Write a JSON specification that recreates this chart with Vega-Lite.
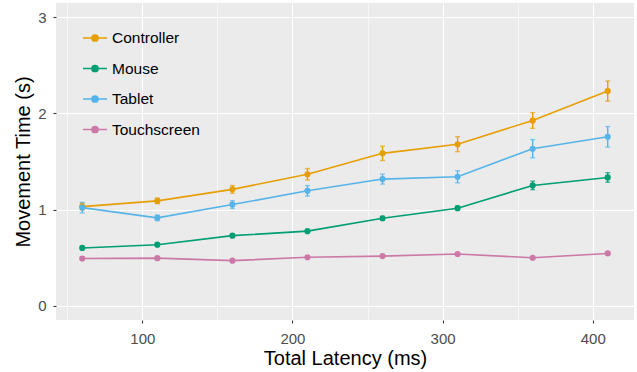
{
  "$schema": "https://vega.github.io/schema/vega-lite/v6.json",
  "width": 578,
  "height": 317,
  "autosize": "none",
  "padding": {"left": 56, "top": 3, "right": 3, "bottom": 52},
  "background": "white",
  "config": {
    "view": {"fill": "#EBEBEB", "stroke": null},
    "font": "Liberation Sans"
  },
  "data": {
    "values": [
      {"device": "Controller", "latency": 60, "time": 1.03, "se": 0.035},
      {"device": "Controller", "latency": 110, "time": 1.09, "se": 0.03},
      {"device": "Controller", "latency": 160, "time": 1.21, "se": 0.04},
      {"device": "Controller", "latency": 210, "time": 1.367, "se": 0.06},
      {"device": "Controller", "latency": 260, "time": 1.585, "se": 0.075},
      {"device": "Controller", "latency": 310, "time": 1.68, "se": 0.078},
      {"device": "Controller", "latency": 360, "time": 1.927, "se": 0.082},
      {"device": "Controller", "latency": 410, "time": 2.233, "se": 0.105},
      {"device": "Mouse", "latency": 60, "time": 0.6, "se": 0.015},
      {"device": "Mouse", "latency": 110, "time": 0.634, "se": 0.015},
      {"device": "Mouse", "latency": 160, "time": 0.728, "se": 0.015},
      {"device": "Mouse", "latency": 210, "time": 0.775, "se": 0.015},
      {"device": "Mouse", "latency": 260, "time": 0.909, "se": 0.02},
      {"device": "Mouse", "latency": 310, "time": 1.014, "se": 0.02},
      {"device": "Mouse", "latency": 360, "time": 1.251, "se": 0.045},
      {"device": "Mouse", "latency": 410, "time": 1.334, "se": 0.05},
      {"device": "Tablet", "latency": 60, "time": 1.02, "se": 0.055},
      {"device": "Tablet", "latency": 110, "time": 0.913, "se": 0.03},
      {"device": "Tablet", "latency": 160, "time": 1.052, "se": 0.04},
      {"device": "Tablet", "latency": 210, "time": 1.195, "se": 0.055},
      {"device": "Tablet", "latency": 260, "time": 1.317, "se": 0.052},
      {"device": "Tablet", "latency": 310, "time": 1.341, "se": 0.063},
      {"device": "Tablet", "latency": 360, "time": 1.633, "se": 0.095},
      {"device": "Tablet", "latency": 410, "time": 1.757, "se": 0.107},
      {"device": "Touchscreen", "latency": 60, "time": 0.49, "se": 0.012},
      {"device": "Touchscreen", "latency": 110, "time": 0.494, "se": 0.012},
      {"device": "Touchscreen", "latency": 160, "time": 0.468, "se": 0.012},
      {"device": "Touchscreen", "latency": 210, "time": 0.503, "se": 0.012},
      {"device": "Touchscreen", "latency": 260, "time": 0.515, "se": 0.012},
      {"device": "Touchscreen", "latency": 310, "time": 0.537, "se": 0.012},
      {"device": "Touchscreen", "latency": 360, "time": 0.498, "se": 0.012},
      {"device": "Touchscreen", "latency": 410, "time": 0.543, "se": 0.012}
    ]
  },
  "encoding": {
    "x": {
      "field": "latency", "type": "quantitative",
      "scale": {"domain": [42.5, 427.5], "nice": false, "zero": false},
      "axis": {
        "title": "Total Latency (ms)",
        "values": [50, 100, 150, 200, 250, 300, 350, 400],
        "labelExpr": "datum.value % 100 === 0 ? datum.label : ''",
        "grid": true,
        "gridColor": "white",
        "gridWidth": {"condition": {"test": "datum.value % 100 === 0", "value": 1.1}, "value": 0.55},
        "domain": false,
        "tickColor": "#333333",
        "tickOpacity": {"condition": {"test": "datum.value % 100 === 0", "value": 1}, "value": 0},
        "tickSize": 3,
        "tickWidth": 1.1,
        "labelColor": "#4D4D4D",
        "labelFontSize": 15,
        "labelFont": "Liberation Sans",
        "labelPadding": 8,
        "titleFontSize": 20,
        "titleFont": "Liberation Sans",
        "titleFontWeight": "normal",
        "titleColor": "black",
        "titlePadding": 2
      }
    },
    "y": {
      "field": "time", "type": "quantitative",
      "scale": {"domain": [-0.15, 3.15], "nice": false, "zero": false},
      "axis": {
        "title": "Movement Time (s)",
        "values": [0, 0.5, 1, 1.5, 2, 2.5, 3],
        "format": "d",
        "labelExpr": "datum.value % 1 === 0 ? datum.label : ''",
        "grid": true,
        "gridColor": "white",
        "gridWidth": {"condition": {"test": "datum.value % 1 === 0", "value": 1.1}, "value": 0.55},
        "domain": false,
        "tickColor": "#333333",
        "tickOpacity": {"condition": {"test": "datum.value % 1 === 0", "value": 1}, "value": 0},
        "tickSize": 3,
        "tickWidth": 1.1,
        "labelColor": "#4D4D4D",
        "labelFontSize": 15,
        "labelFont": "Liberation Sans",
        "labelPadding": 7,
        "titleFontSize": 20,
        "titleFont": "Liberation Sans",
        "titleFontWeight": "normal",
        "titleColor": "black",
        "titlePadding": 4
      }
    },
    "color": {
      "field": "device", "type": "nominal",
      "scale": {
        "domain": ["Controller", "Mouse", "Tablet", "Touchscreen"],
        "range": ["#E69F00", "#009E73", "#56B4E9", "#CC79A7"]
      },
      "legend": {
        "title": null,
        "orient": "none",
        "legendX": 26,
        "legendY": 22,
        "padding": 0,
        "symbolType": "M-1,0L1,0M0.26,0A0.26,0.26,0,1,1,-0.26,0A0.26,0.26,0,1,1,0.26,0Z",
        "symbolSize": 576,
        "symbolStrokeWidth": 1.5,
        "symbolOpacity": 1,
        "rowPadding": 8.5,
        "labelFontSize": 15.5,
        "labelFont": "Liberation Sans",
        "labelColor": "black",
        "labelOffset": 4,
        "encode": {
          "symbols": {"update": {"fill": {"scale": "color", "field": "value"}, "fillOpacity": {"value": 1}}}
        }
      }
    }
  },
  "layer": [
    {
      "mark": {"type": "line", "strokeWidth": 1.6},
      "encoding": {}
    },
    {
      "mark": {"type": "errorbar", "ticks": {"size": 5, "thickness": 1.3}, "thickness": 1.4},
      "encoding": {"yError": {"field": "se"}}
    },
    {
      "mark": {"type": "point", "filled": true, "size": 38, "opacity": 1},
      "encoding": {}
    }
  ]
}
